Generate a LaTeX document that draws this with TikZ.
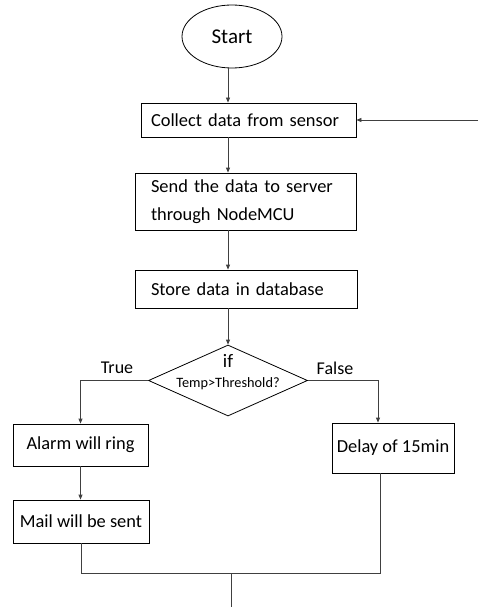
\documentclass[tikz,border=0pt]{standalone}
\usepackage{fontspec}
\setmainfont{Carlito}
\usepackage{tikz}
\usetikzlibrary{arrows.meta}
\usetikzlibrary{shapes.geometric}
\tikzstyle{fchead}=[>/.tip={Triangle[length=5pt,width=4pt]}]
\tikzstyle{fc}=[line width=.8pt,black!75,fchead,->]
\tikzstyle{ln}=[line width=.8pt,black!75]
\tikzstyle{box}=[draw,line width=.8pt,inner ysep=0pt,font=\fontsize{18.4}{28}\selectfont]
\tikzstyle{lbox}=[box,align=left,inner xsep=16pt]
\tikzstyle{term}=[draw,ellipse,line width=.8pt,inner sep=0pt,minimum width=100pt,minimum height=63pt,font=\fontsize{21}{21}\selectfont]
\tikzstyle{dec}=[draw,diamond,line width=.8pt,inner sep=0pt,minimum width=159pt,minimum height=71pt]
\tikzstyle{tf}=[font=\fontsize{18}{18}\selectfont]

\begin{document}
\begin{tikzpicture}[x=1pt,y=-1pt]
	\useasboundingbox (0,0) rectangle (480,607);
	\node[term] (St) at (232,36.5) {Start};
	\node[lbox,inner xsep=10pt,text width=195pt,minimum height=34pt] (Col) at (248.5,120) {Collect data from sensor};
	\node[lbox,text width=189pt,minimum height=57pt] (Snd) at (245.5,201.5) {Send the data to server\\through NodeMCU};
	\node[lbox,text width=190pt,minimum height=38pt] (Sto) at (246,289) {Store data in database};
	\node[dec] (If) at (228,380.5) {};
	\node[align=center,font=\fontsize{14.3}{20}\selectfont] (Cond) at (228,372) {{\fontsize{19}{20}\selectfont if}\\Temp>Threshold?};
	\node[tf] (T) at (117,368) {True};
	\node[tf] (F) at (335,368) {False};
	\node[box,minimum width=135pt,minimum height=42pt] (Al) at (80.5,445) {Alarm will ring};
	\node[box,minimum width=136pt,minimum height=43pt] (Ml) at (81,521.5) {Mail will be sent};
	\node[box,minimum width=122pt,minimum height=50pt] (Dl) at (393,448) {Delay of 15min};
	\coordinate (R) at (478,120);
	\coordinate (J) at (231,573);
	\coordinate (E) at (231,607);
	\draw[fc] (St.south -| If) -- (If |- Col.north);
	\draw[fc] (If |- Col.south) -- (If |- Snd.north);
	\draw[fc] (If |- Snd.south) -- (If |- Sto.north);
	\draw[fc] (If |- Sto.south) -- (If.north);
	\draw[fc] (R) -- (Col.east);
	\draw[fc] (If.west) -| (Al.north);
	\draw[fc] (If.east) -| ([xshift=-15pt]Dl.north);
	\draw[fc] (Al) -- (Al |- Ml.north);
	\draw[ln] (Ml.south) |- ([xshift=-13pt]Dl.south |- J) -- ([xshift=-13pt]Dl.south);
	\draw[ln] (J) -- (E);
\end{tikzpicture}
\end{document}
